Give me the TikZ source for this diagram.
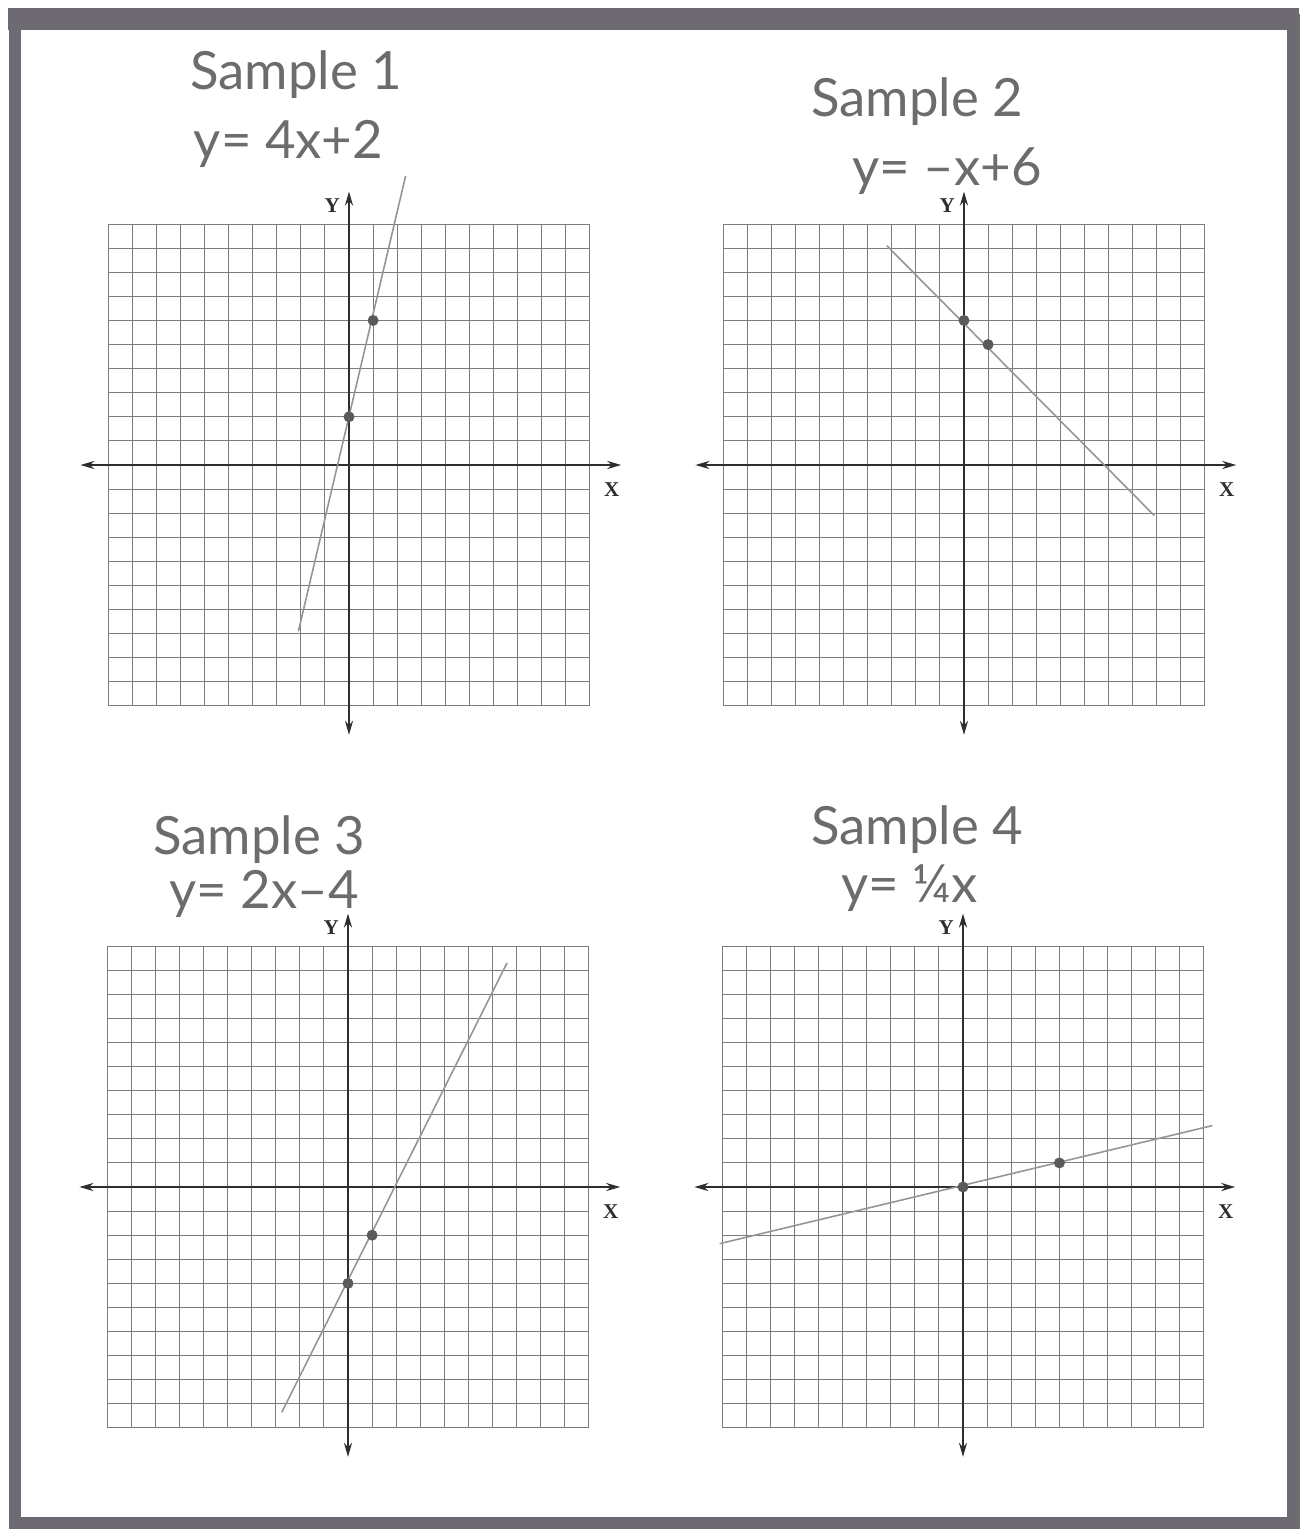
\documentclass[tikz,border=0pt]{standalone}
\usepackage{fontspec}
\setmainfont{Liberation Serif}
\newfontfamily\handfont{Lato}
\usetikzlibrary{arrows.meta, positioning}
\definecolor{frameGray}{HTML}{6E6A72}
\definecolor{pencilGray}{HTML}{6C6C6C}
\definecolor{gridGray}{HTML}{7C7C7E}
\definecolor{axisDark}{HTML}{2E2E30}
\definecolor{lineGray}{HTML}{959595}
\definecolor{dotGray}{HTML}{5A5A5C}

\begin{document}
\begin{tikzpicture}[
    x=0.02cm, y=-0.02cm,
    frame/.style={draw=frameGray, line width=0.26cm},
    gridline/.style={draw=gridGray, line width=0.6pt},
    axis/.style={draw=axisDark, line width=1.35pt, arrows={Stealth[length=2.8mm, width=1.6mm]-Stealth[length=2.8mm, width=1.6mm]}},
    axislabel/.style={font=\fontsize{12}{12}\selectfont\bfseries, text=axisDark, inner sep=0pt},
    sketch/.style={font=\handfont\fontsize{30}{32}\selectfont, text=pencilGray, inner sep=0pt},
    graphline/.style={draw=lineGray, line width=0.9pt},
    dot/.style={circle, fill=dotGray, inner sep=0pt, minimum size=0.22cm},
]
    \useasboundingbox (0,0) rectangle (1299,1529);

    % Page frame
    \draw[frame] (15,20) rectangle (1293,1523);
    \fill[frameGray] (8,8) rectangle (1299,30);

    % Origins of the four graphs
    \coordinate (a-o) at (349,465);
    \coordinate (b-o) at (964,465);
    \coordinate (c-o) at (348,1187);
    \coordinate (d-o) at (963,1187);

    % Grids and axes
    \foreach \g in {a,b,c,d} {
        \begin{scope}[shift={(\g-o)}, x=0.482cm, y=0.482cm]
            \foreach \k in {-10,...,10} {
                \draw[gridline] (\k,-10) -- (\k,10);
                \draw[gridline] (-10,\k) -- (10,\k);
            }
            \coordinate (\g-xl) at (-11.15,0);
            \coordinate (\g-xr) at (11.3,0);
            \coordinate (\g-yb) at (0,-11.2);
            \coordinate (\g-yt) at (0,11.35);
            \draw[axis] (\g-xl) -- (\g-xr);
            \draw[axis] (\g-yb) -- (\g-yt);
            \node[axislabel] (\g-ylab) at (-0.7,10.75) {Y};
            \node[axislabel] (\g-xlab) at (10.9,-1.0) {X};
        \end{scope}
    }

    % Sample 1
    \node[sketch] (s1) at (296,75) {Sample 1};
    \node[sketch, below=0.42cm of s1, xshift=-0.15cm] (e1) {y= 4x+2};
    \begin{scope}[shift={(a-o)}, x=0.482cm, y=0.482cm]
        \coordinate (a-s) at (-2.1,-6.9);
        \coordinate (a-e) at (2.35,12);
        \draw[graphline] (a-s) -- (a-e);
        \node[dot] (a-p1) at (0,2) {};
        \node[dot] (a-p2) at (1,6) {};
    \end{scope}

    % Sample 2
    \node[sketch] (s2) at (917,102) {Sample 2};
    \node[sketch, below=0.42cm of s2, xshift=0.6cm] (e2) {y= –x+6};
    \begin{scope}[shift={(b-o)}, x=0.482cm, y=0.482cm]
        \coordinate (b-s) at (-3.2,9.1);
        \coordinate (b-e) at (7.9,-2.1);
        \draw[graphline] (b-s) -- (b-e);
        \node[dot] (b-p1) at (0,6) {};
        \node[dot] (b-p2) at (1,5) {};
    \end{scope}

    % Sample 3
    \node[sketch] (s3) at (259,840) {Sample 3};
    \node[sketch, below=0.12cm of s3, xshift=0.1cm] (e3) {y= 2x–4};
    \begin{scope}[shift={(c-o)}, x=0.482cm, y=0.482cm]
        \coordinate (c-s) at (-2.75,-9.35);
        \coordinate (c-e) at (6.6,9.3);
        \draw[graphline] (c-s) -- (c-e);
        \node[dot] (c-p1) at (0,-4) {};
        \node[dot] (c-p2) at (1,-2) {};
    \end{scope}

    % Sample 4
    \node[sketch] (s4) at (917,830) {Sample 4};
    \node[sketch, below=0.2cm of s4, xshift=-0.15cm] (e4) {y= ¼x};
    \begin{scope}[shift={(d-o)}, x=0.482cm, y=0.482cm]
        \coordinate (d-s) at (-10.1,-2.35);
        \coordinate (d-e) at (10.35,2.55);
        \draw[graphline] (d-s) -- (d-e);
        \node[dot] (d-p1) at (0,0) {};
        \node[dot] (d-p2) at (4,1) {};
    \end{scope}
\end{tikzpicture}
\end{document}
